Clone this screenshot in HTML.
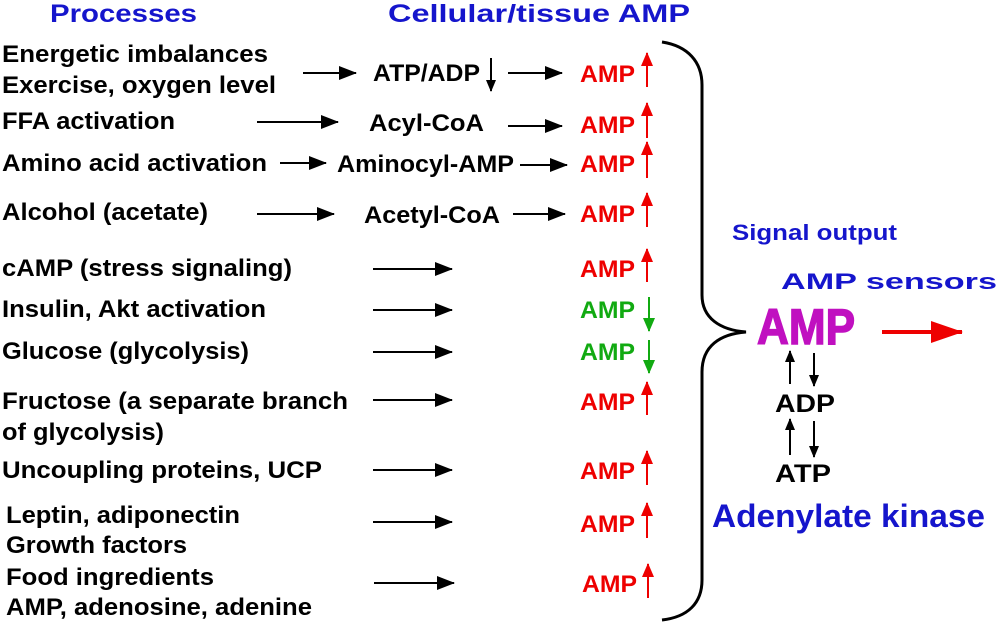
<!DOCTYPE html>
<html><head><meta charset="utf-8"><style>
html,body{margin:0;padding:0;background:#fff}
svg{display:block}
text{font-family:"Liberation Sans",Arial,sans-serif;font-weight:bold}
</style></head><body>
<svg width="1000" height="626" viewBox="0 0 1000 626" xmlns="http://www.w3.org/2000/svg">
<defs>
<marker id="ah" markerWidth="12" markerHeight="10" refX="11" refY="5" orient="auto" markerUnits="userSpaceOnUse"><path d="M0,0 L12,5 L0,10 z" fill="#000"/></marker>
<marker id="ahs" markerWidth="18" markerHeight="14" refX="17" refY="7" orient="auto" markerUnits="userSpaceOnUse"><path d="M0,0 L18,7 L0,14 z" fill="#000"/></marker>
<marker id="ahr" markerWidth="14" markerHeight="12" refX="13" refY="6" orient="auto" markerUnits="userSpaceOnUse"><path d="M0,0 L14,6 L0,12 z" fill="#e00"/></marker>
<marker id="ahg" markerWidth="14" markerHeight="12" refX="13" refY="6" orient="auto" markerUnits="userSpaceOnUse"><path d="M0,0 L14,6 L0,12 z" fill="#1a1"/></marker>
<marker id="ahb" markerWidth="32" markerHeight="22" refX="31" refY="11" orient="auto" markerUnits="userSpaceOnUse"><path d="M0,0 L32,11 L0,22 z" fill="#e00"/></marker>
</defs>
<g font-size="25" fill="#1515cc">
<text x="50" y="22" textLength="147" lengthAdjust="spacingAndGlyphs">Processes</text>
<text x="388" y="22" textLength="302" lengthAdjust="spacingAndGlyphs">Cellular/tissue AMP</text>
</g>
<g font-size="24" fill="#000">
<text x="2" y="62" textLength="266" lengthAdjust="spacingAndGlyphs">Energetic imbalances</text>
<text x="2" y="93" textLength="274" lengthAdjust="spacingAndGlyphs">Exercise, oxygen level</text>
<text x="2" y="129" textLength="173" lengthAdjust="spacingAndGlyphs">FFA activation</text>
<text x="2" y="171" textLength="265" lengthAdjust="spacingAndGlyphs">Amino acid activation</text>
<text x="2" y="220" textLength="206" lengthAdjust="spacingAndGlyphs">Alcohol (acetate)</text>
<text x="2" y="276" textLength="290" lengthAdjust="spacingAndGlyphs">cAMP (stress signaling)</text>
<text x="2" y="317" textLength="264" lengthAdjust="spacingAndGlyphs">Insulin, Akt activation</text>
<text x="2" y="359" textLength="247" lengthAdjust="spacingAndGlyphs">Glucose (glycolysis)</text>
<text x="2" y="409" textLength="346" lengthAdjust="spacingAndGlyphs">Fructose (a separate branch</text>
<text x="2" y="440" textLength="162" lengthAdjust="spacingAndGlyphs">of glycolysis)</text>
<text x="2" y="478" textLength="320" lengthAdjust="spacingAndGlyphs">Uncoupling proteins, UCP</text>
<text x="6" y="523" textLength="234" lengthAdjust="spacingAndGlyphs">Leptin, adiponectin</text>
<text x="6" y="553" textLength="181" lengthAdjust="spacingAndGlyphs">Growth factors</text>
<text x="6" y="585" textLength="208" lengthAdjust="spacingAndGlyphs">Food ingredients</text>
<text x="6" y="615" textLength="306" lengthAdjust="spacingAndGlyphs">AMP, adenosine, adenine</text>
<text x="373" y="81" textLength="107" lengthAdjust="spacingAndGlyphs">ATP/ADP</text>
<text x="369" y="131" textLength="115" lengthAdjust="spacingAndGlyphs">Acyl-CoA</text>
<text x="337" y="172" textLength="177" lengthAdjust="spacingAndGlyphs">Aminocyl-AMP</text>
<text x="364" y="223" textLength="136" lengthAdjust="spacingAndGlyphs">Acetyl-CoA</text>
</g>
<g stroke="#000" stroke-width="2" marker-end="url(#ahs)">
<line x1="303" y1="73" x2="356" y2="73"/>
<line x1="508" y1="73" x2="562" y2="73"/>
<line x1="257" y1="122" x2="338" y2="122"/>
<line x1="508" y1="126" x2="562" y2="126"/>
<line x1="280" y1="163" x2="326" y2="163"/>
<line x1="520" y1="165" x2="567" y2="165"/>
<line x1="257" y1="214" x2="334" y2="214"/>
<line x1="513" y1="214" x2="565" y2="214"/>
<line x1="373" y1="269" x2="452" y2="269"/>
<line x1="373" y1="310" x2="452" y2="310"/>
<line x1="373" y1="352" x2="452" y2="352"/>
<line x1="373" y1="400" x2="452" y2="400"/>
<line x1="373" y1="470" x2="452" y2="470"/>
<line x1="373" y1="522" x2="452" y2="522"/>
<line x1="374" y1="583" x2="454" y2="583"/>
</g>
<line x1="491" y1="58" x2="491" y2="91" stroke="#000" stroke-width="2" marker-end="url(#ah)"/>
<g font-size="24">
<text x="580" y="82" fill="#e00" textLength="55" lengthAdjust="spacingAndGlyphs">AMP</text>
<text x="580" y="133" fill="#e00" textLength="55" lengthAdjust="spacingAndGlyphs">AMP</text>
<text x="580" y="172" fill="#e00" textLength="55" lengthAdjust="spacingAndGlyphs">AMP</text>
<text x="580" y="222" fill="#e00" textLength="55" lengthAdjust="spacingAndGlyphs">AMP</text>
<text x="580" y="277" fill="#e00" textLength="55" lengthAdjust="spacingAndGlyphs">AMP</text>
<text x="580" y="318" fill="#1a1" textLength="55" lengthAdjust="spacingAndGlyphs">AMP</text>
<text x="580" y="360" fill="#1a1" textLength="55" lengthAdjust="spacingAndGlyphs">AMP</text>
<text x="580" y="410" fill="#e00" textLength="55" lengthAdjust="spacingAndGlyphs">AMP</text>
<text x="580" y="479" fill="#e00" textLength="55" lengthAdjust="spacingAndGlyphs">AMP</text>
<text x="580" y="532" fill="#e00" textLength="55" lengthAdjust="spacingAndGlyphs">AMP</text>
<text x="582" y="592" fill="#e00" textLength="55" lengthAdjust="spacingAndGlyphs">AMP</text>
</g>
<g stroke="#e00" stroke-width="2" marker-end="url(#ahr)">
<line x1="647" y1="87" x2="647" y2="53"/>
<line x1="647" y1="138" x2="647" y2="103"/>
<line x1="647" y1="178" x2="647" y2="142"/>
<line x1="647" y1="227" x2="647" y2="193"/>
<line x1="647" y1="282" x2="647" y2="249"/>
<line x1="647" y1="415" x2="647" y2="382"/>
<line x1="647" y1="485" x2="647" y2="451"/>
<line x1="647" y1="538" x2="647" y2="503"/>
<line x1="648" y1="598" x2="648" y2="564"/>
</g>
<g stroke="#1a1" stroke-width="2" marker-end="url(#ahg)">
<line x1="649" y1="297" x2="649" y2="331"/>
<line x1="649" y1="340" x2="649" y2="373"/>
</g>
<path d="M662,42 C688,46 702,62 702,85 L702,295 C702,318 720,330 746,332 C720,334 702,346 702,372 L702,580 C702,603 688,617 662,620" fill="none" stroke="#000" stroke-width="3"/>
<text x="732" y="240" font-size="22" fill="#1515cc" textLength="165" lengthAdjust="spacingAndGlyphs">Signal output</text>
<text x="781" y="289" font-size="22" fill="#1515cc" textLength="216" lengthAdjust="spacingAndGlyphs">AMP sensors</text>
<text x="757" y="344" font-size="50" fill="#c010c0" stroke="#c010c0" stroke-width="1.5" textLength="98" lengthAdjust="spacingAndGlyphs">AMP</text>
<line x1="882" y1="332" x2="962" y2="332" stroke="#e00" stroke-width="4" marker-end="url(#ahb)"/>
<g stroke="#000" stroke-width="2" marker-end="url(#ah)">
<line x1="790" y1="384" x2="790" y2="351"/>
<line x1="814" y1="353" x2="814" y2="386"/>
<line x1="790" y1="455" x2="790" y2="419"/>
<line x1="814" y1="421" x2="814" y2="457"/>
</g>
<text x="775" y="412" font-size="25" fill="#000" textLength="60" lengthAdjust="spacingAndGlyphs">ADP</text>
<text x="775" y="482" font-size="25" fill="#000" textLength="56" lengthAdjust="spacingAndGlyphs">ATP</text>
<text x="712" y="527" font-size="32" fill="#1515cc" textLength="273" lengthAdjust="spacingAndGlyphs">Adenylate kinase</text>
</svg>
</body></html>
